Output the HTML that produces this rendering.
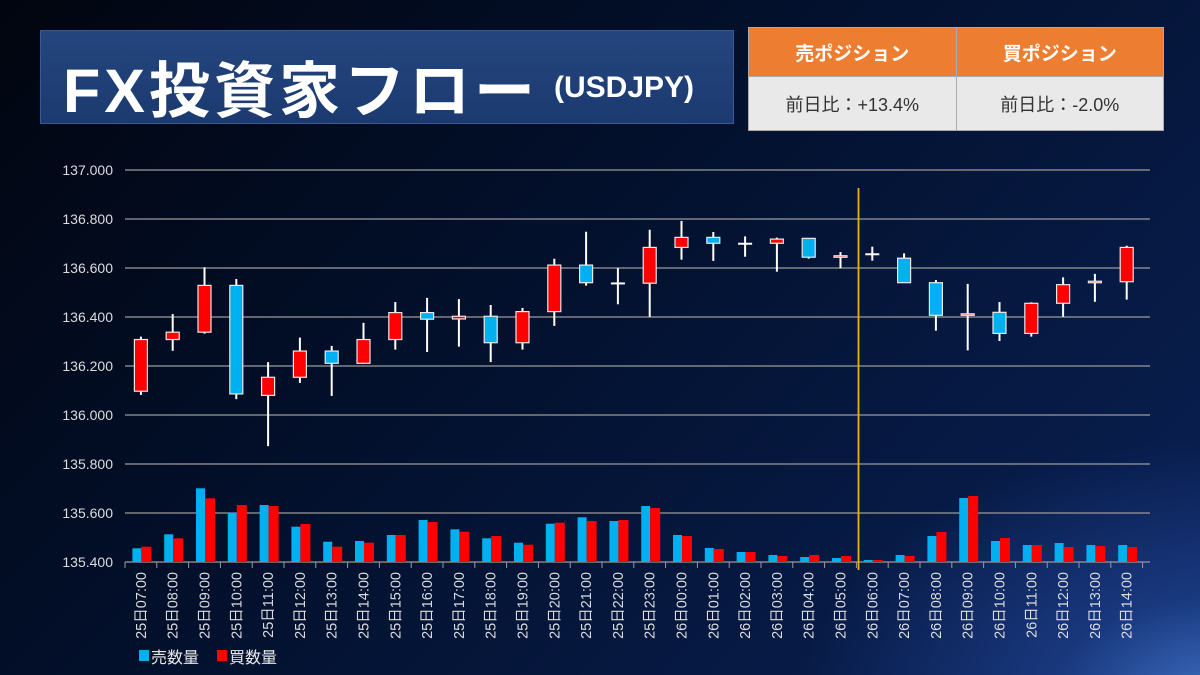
<!DOCTYPE html>
<html><head><meta charset="utf-8"><style>
html,body{margin:0;padding:0;}
body{width:1200px;height:675px;overflow:hidden;position:relative;font-family:"Liberation Sans","Noto Sans CJK JP",sans-serif;
background:radial-gradient(ellipse 420px 260px at 1220px 700px,#3d6fc0 0%,rgba(40,80,170,0.5) 40%,rgba(0,0,0,0) 100%),linear-gradient(135deg,#01050f 0%,#03112e 45%,#0a2156 100%);}
#title{position:absolute;left:40px;top:30px;width:694px;height:94px;background:linear-gradient(180deg,#24457e,#1b3a70);border:1px solid #3a5a95;box-sizing:border-box;color:#fff;}
#title .main{position:absolute;left:22px;top:10px;font-size:61px;font-weight:bold;letter-spacing:4px;white-space:nowrap;}
#title .sub{position:absolute;left:513px;top:40px;font-size:30px;font-weight:bold;}
table{position:absolute;left:748px;top:27px;border-collapse:collapse;width:416px;}
td{border:1px solid #aaa;text-align:center;width:50%;}
td.h{background:#ed7d31;color:#fff;font-weight:bold;font-size:19px;height:46px;}
td.v{background:#e9e9e9;color:#333;font-size:18px;height:51px;}
</style></head><body>
<div id="title"><span class="main">FX投資家フロー</span><span class="sub">(USDJPY)</span></div>
<table>
<tr><td class="h">売ポジション</td><td class="h">買ポジション</td></tr>
<tr><td class="v">前日比：+13.4%</td><td class="v">前日比：-2.0%</td></tr>
</table>
<svg id="chart" width="1200" height="675" style="position:absolute;left:0;top:0"></svg>
<script>
const categories=["25日07:00","25日08:00","25日09:00","25日10:00","25日11:00","25日12:00","25日13:00","25日14:00","25日15:00","25日16:00","25日17:00","25日18:00","25日19:00","25日20:00","25日21:00","25日22:00","25日23:00","26日00:00","26日01:00","26日02:00","26日03:00","26日04:00","26日05:00","26日06:00","26日07:00","26日08:00","26日09:00","26日10:00","26日11:00","26日12:00","26日13:00","26日14:00"];
const opens=[136.097,136.308,136.338,136.529,136.080,136.154,136.261,136.211,136.308,136.418,136.392,136.403,136.295,136.422,136.612,136.537,136.538,136.684,136.725,136.699,136.701,136.721,136.645,136.656,136.640,136.540,136.407,136.419,136.333,136.456,136.540,136.544];
const closes=[136.308,136.338,136.529,136.086,136.154,136.261,136.211,136.308,136.418,136.391,136.403,136.295,136.422,136.612,136.540,136.537,136.684,136.725,136.701,136.699,136.718,136.644,136.650,136.656,136.540,136.407,136.413,136.333,136.456,136.532,136.546,136.684];
const highs=[136.320,136.412,136.603,136.555,136.216,136.316,136.282,136.376,136.461,136.478,136.473,136.449,136.437,136.638,136.748,136.599,136.756,136.792,136.747,136.729,136.724,136.721,136.665,136.687,136.660,136.551,136.535,136.461,136.460,136.562,136.576,136.691];
const lows=[136.082,136.262,136.332,136.065,135.873,136.131,136.078,136.208,136.267,136.257,136.279,136.216,136.267,136.364,136.528,136.452,136.401,136.634,136.629,136.646,136.585,136.638,136.599,136.630,136.540,136.344,136.264,136.302,136.320,136.401,136.462,136.471];
const sellVolume=[13.7,27.7,73.7,49.3,57,35.3,20.3,21,27,42,32.7,23.7,19.3,38.3,44.7,41,56,27,14,10,7,5,4,2,7,26,64,21,17,19,17,17];
const buyVolume=[15.3,23.7,63.7,57,56,38,15.3,19.3,27,40,30.3,26,17.3,39.3,41,42,54,26,13,10,6,7,6,2,6,30,66,24,17,15,16,15];
const yTicks=[135.4,135.6,135.8,136.0,136.2,136.4,136.6,136.8,137.0];
const yTickLabels=["135.400","135.600","135.800","136.000","136.200","136.400","136.600","136.800","137.000"];
const dividerIndex=22.5;

const svg=document.getElementById('chart');
const NS='http://www.w3.org/2000/svg';
const X0=125,STEP=31.8,YT=170,YB=562,PMIN=135.4,PMAX=137.0;
const xc=i=>X0+STEP*(i+0.5);
const yp=p=>YT+(PMAX-p)/(PMAX-PMIN)*(YB-YT);
const vs=v=>v*1.0;
function mk(tag,attrs,parent){const e=document.createElementNS(NS,tag);for(const k in attrs)e.setAttribute(k,attrs[k]);(parent||svg).appendChild(e);return e;}

yTicks.forEach((t,i)=>{
  const g=mk('line',{x1:X0,x2:1150,y1:yp(t),y2:yp(t),stroke:'#9a9a9a','stroke-width':1.3});
  
  
  const tx=mk('text',{x:113,y:yp(t)+5,'text-anchor':'end',fill:'#dcdcdc','font-size':14});
  tx.textContent=yTickLabels[i];
  
  
});
for(let i=0;i<=categories.length;i++){
  const t=mk('line',{x1:X0+STEP*i,x2:X0+STEP*i,y1:YB,y2:YB+6,stroke:'#9a9a9a','stroke-width':1});
  
  
}
categories.forEach((c,i)=>{
  const b=mk('rect',{x:xc(i)-8.5,y:YB-vs(sellVolume[i]),width:9,height:vs(sellVolume[i]),fill:'#00b0f0'});
  
  
  const r=mk('rect',{x:xc(i)+0.5,y:YB-vs(buyVolume[i]),width:10,height:vs(buyVolume[i]),fill:'#ff0000'});
  
  
});
const dv=mk('line',{x1:X0+STEP*dividerIndex+18,x2:X0+STEP*dividerIndex+18,y1:188,y2:570,stroke:'#f0b000','stroke-width':1.8});


categories.forEach((c,i)=>{
  const x=xc(i);
  const w=mk('line',{x1:x,x2:x,y1:yp(highs[i]),y2:yp(lows[i]),stroke:'#fff','stroke-width':2});
  
  
  const o=opens[i],cl=closes[i];
  if(Math.abs(o-cl)<0.001){
    const d=mk('line',{x1:x-7,x2:x+7,y1:yp(o),y2:yp(o),stroke:'#fff','stroke-width':2});
    
    
  }else{
    const top=yp(Math.max(o,cl)),bot=yp(Math.min(o,cl));
    const r=mk('rect',{x:x-6.5,y:top,width:13,height:Math.max(bot-top,1.5),fill:cl>o?'#ff0000':'#00b0f0',stroke:'#e8e8e8','stroke-width':1.2});
    
    
  }
  const t=mk('text',{x:0,y:0,'text-anchor':'end',fill:'#dcdcdc','font-size':14.5,transform:`translate(${x+5},572) rotate(-90)`});
  t.textContent=c;
  
  
});
const lg=mk('g',{});


const s1=mk('rect',{x:139,y:650,width:10,height:11,fill:'#00b0f0'},lg);


const t1=mk('text',{x:151,y:663,fill:'#e6e6e6','font-size':16},lg);t1.textContent='売数量';


const s2=mk('rect',{x:217,y:650,width:10,height:11,fill:'#ff0000'},lg);


const t2=mk('text',{x:229,y:663,fill:'#e6e6e6','font-size':16},lg);t2.textContent='買数量';


</script>
</body></html>
